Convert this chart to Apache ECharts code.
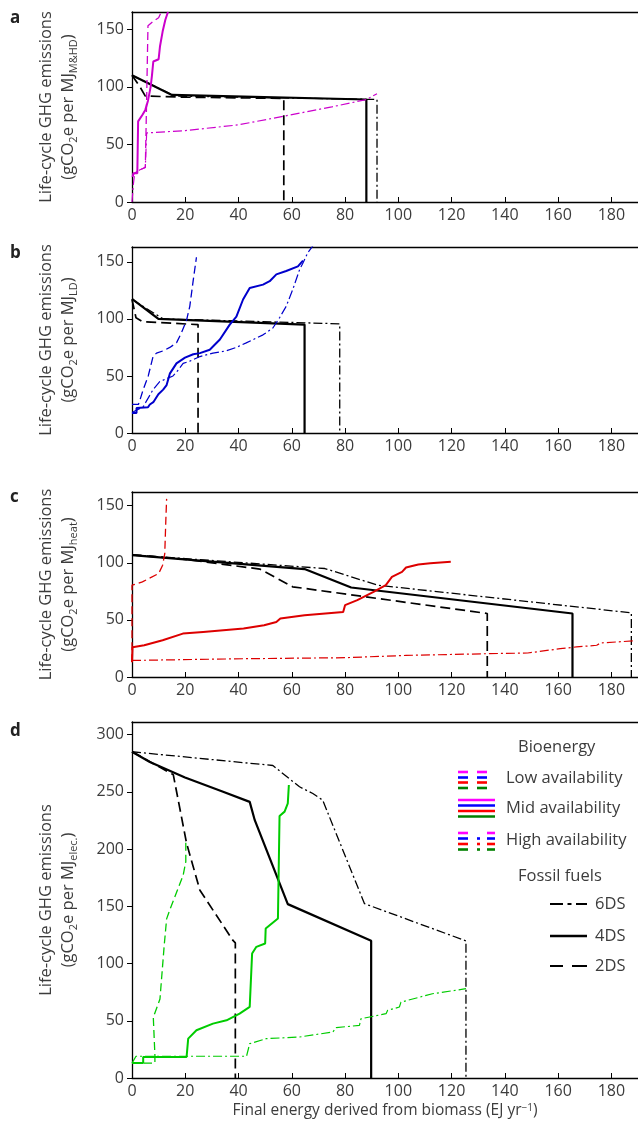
<!DOCTYPE html>
<html>
<head>
<meta charset="utf-8">
<script src="https://cdn.jsdelivr.net/npm/echarts@6/dist/echarts.min.js"></script>
<style>
html, body { margin: 0; padding: 0; background: #fff; }
#main { width: 638px; height: 1132px; }
</style>
</head>
<body>
<div id="main"></div>
<script>
// tick values
const xTicks = [0, 20, 40, 60, 80, 100, 120, 140, 160, 180];
const yTicksSmall = [0, 50, 100, 150];
const yTicksElec = [0, 50, 100, 150, 200, 250, 300];

// panel a: M&HD
const a6DS = [[0,110],[16,92],[92,89],[92,0]];
const a4DS = [[0,110],[15,93],[88,89],[88,0]];
const a2DS = [[0,110],[3,100],[5,92],[20,91],[57,90],[57,0]];
const aLow = [[0,22],[1,25],[3,28],[5,30],[5.5,90],[6,153],[8,157],[10,160],[11,165]];
const aMid = [[0.3,22],[0.5,25],[2,25],[2.3,70],[4,76],[5,80],[6,88],[7,100],[7.5,110],[8,122],[10,124],[10.5,135],[11.5,148],[12.5,158],[13.5,165]];
const aHigh = [[0,0],[0.5,15],[1,25],[3,28],[5,30],[5.5,60],[20,62],[40,67],[57,74.5],[75,82.6],[88,89],[92,94]];

// panel b: LD
const b6DS = [[0,117],[11.7,100],[78,95.7],[78,0]];
const b4DS = [[0,117.6],[9.9,100],[64.8,95],[64.8,0]];
const b2DS = [[0,117],[1.5,101],[4,97.5],[24.8,95],[24.8,0]];
const bLow = [[0,25],[2.4,25],[3,29],[4.2,38],[6.1,50],[7.9,67],[9.2,70],[11.7,72],[14.2,75],[16.7,79],[18.6,88],[20.5,99],[21.7,111],[23,134],[24.2,154]];
const bMid = [[0,17.5],[1.7,17.5],[1.7,22],[6,22.5],[6.7,25],[8,27],[9.9,34],[11.7,38],[13,42],[14.2,52],[16.7,61],[19.9,66],[23,69],[25.5,70],[29.2,73],[33,82],[36.7,95],[39.2,102],[41.7,117],[44.2,127],[49.2,130],[51.7,133],[54.2,139],[57.9,142],[62.3,146],[64.2,151]];
const bHigh = [[0,18],[4.2,23],[7.9,38],[10.4,45],[15.4,50],[17.3,55],[19.2,61],[21.7,63],[25.5,67],[30.4,70],[35.4,72],[39.2,75],[42.9,79],[49.2,86],[52.9,92],[55.4,101],[57.9,111],[60.4,126],[62.9,143],[64.2,149],[66,158],[67.9,164]];

// panel c: heat
const c6DS = [[0,107],[72.4,95],[92.3,80.4],[187.5,56.2],[187.5,0]];
const c4DS = [[0,106.8],[64.8,94.5],[82.3,78.4],[165.4,55.6],[165.4,0]];
const c2DS = [[0,107],[20,103],[48,94.5],[60.3,79],[133.4,55.6],[133.4,0]];
const cLow = [[0,13],[0,80.4],[3.9,83.3],[10,90.6],[11.5,97.9],[12.3,108],[12.7,137],[13,156]];
const cMid = [[0,13],[0.2,26],[4.6,27.8],[11.5,32.2],[19.1,38],[26.7,39.5],[41.9,42.4],[49.6,45.3],[54.2,48.2],[55.7,51.2],[64.8,54.1],[79.3,57],[80,62.9],[84.6,67.3],[90.7,74.6],[95.3,80.4],[97.6,87.7],[101.4,92.1],[102.9,95.9],[107.5,98.5],[112,99.7],[119.7,100.9]];
const cHigh = [[0,14.5],[41.9,16],[80,16.9],[102.9,18.9],[133.4,20.4],[148.6,21],[160.8,24.8],[166.9,26.3],[174.5,27.8],[176,29.8],[188.2,31.6]];

// panel d: electricity
const d6DS = [[0,285],[52.9,273],[62.9,254.4],[67.9,248.5],[71.6,242.7],[87.3,152.3],[125.4,119.8],[125.4,0]];
const d4DS = [[0,285],[6.7,276],[19.9,262.5],[34.2,250],[44.2,241.2],[46.1,225.2],[58.5,151.9],[89.8,119.8],[89.8,0]];
const d2DS = [[0,285],[15.5,265],[20.5,205],[25.5,164],[37.9,120.2],[38.8,118],[38.8,0]];
const dLow = [[0,13],[8.6,13],[8.6,20],[8,53],[10.5,69],[12.1,116],[13,139],[14.2,147],[19.2,177],[20.2,189],[20.2,206]];
const dMid = [[0,13],[4.2,13],[4.2,18.4],[20.5,18.4],[21.1,34.4],[24.2,41.7],[30.4,47.5],[35.5,50.4],[40.4,56.3],[44.2,62.1],[45.1,108.8],[46.7,114.6],[50,117.5],[50.2,130.6],[54.8,139.4],[55.4,228.9],[57.3,232.7],[58.5,240],[58.9,256]];
const dHigh = [[0,13],[1.5,19],[43,19],[44.2,30],[50.4,34.4],[62.9,35.8],[75.4,40.2],[76.7,44],[85.4,46],[86,51.8],[95.4,56.2],[96,59.1],[100.4,62],[101,66.3],[112.8,73.6],[125.4,78]];

const FONT = '"Open Sans", "Noto Sans", sans-serif';
const TXT = '#3c3c3c';
const DASHDOT = [9, 3, 2, 3];

let myChart = echarts.init(document.getElementById('main'), null, { renderer: 'canvas' });

// panel settings
const panels = [
    { top: 12, height: 190, ymax: 165, yTicks: yTicksSmall, sub: 'M&HD', color: '#cc00cc',
      fossil: [a6DS, a4DS, a2DS], bio: [aLow, aMid, aHigh] },
    { top: 247, height: 186, ymax: 163, yTicks: yTicksSmall, sub: 'LD', color: '#0000cc',
      fossil: [b6DS, b4DS, b2DS], bio: [bLow, bMid, bHigh] },
    { top: 492, height: 185, ymax: 162, yTicks: yTicksSmall, sub: 'heat', color: '#dd0000',
      fossil: [c6DS, c4DS, c2DS], bio: [cLow, cMid, cHigh] },
    { top: 722, height: 356, ymax: 311, yTicks: yTicksElec, sub: 'elec.', color: '#00cc00',
      fossil: [d6DS, d4DS, d2DS], bio: [dLow, dMid, dHigh] }
];

let grids = [], xAxes = [], yAxes = [], series = [];

panels.forEach(function (p, i) {
    grids.push({ left: 132, width: 507, top: p.top, height: p.height });

    // bottom axis
    xAxes.push({
        type: 'value', gridIndex: i, min: 0, max: 190,
        axisLine: { show: true, onZero: false, lineStyle: { color: '#000', width: 1.3 } },
        axisTick: { show: true, inside: true, length: 5, customValues: xTicks, lineStyle: { color: '#000', width: 1 } },
        axisLabel: { customValues: xTicks, color: TXT, fontSize: 16, fontFamily: FONT, margin: 5 },
        splitLine: { show: false },
        name: i === 3 ? 'Final energy derived from biomass (EJ yr{sup|\u22121})' : '',
        nameLocation: 'middle', nameGap: 25,
        nameTextStyle: {
            color: TXT, fontSize: 15.5, fontFamily: FONT,
            rich: { sup: { fontSize: 10, color: TXT, fontFamily: FONT, verticalAlign: 'top', lineHeight: 12 } }
        }
    });
    // top border line
    xAxes.push({
        type: 'value', gridIndex: i, min: 0, max: 190, position: 'top',
        axisLine: { show: true, onZero: false, lineStyle: { color: '#000', width: 1.3 } },
        axisTick: { show: false }, axisLabel: { show: false }, splitLine: { show: false }
    });

    yAxes.push({
        type: 'value', gridIndex: i, min: 0, max: p.ymax,
        axisLine: { show: true, lineStyle: { color: '#000', width: 1.3 } },
        axisTick: { show: true, inside: false, length: 5, customValues: p.yTicks, lineStyle: { color: '#000' } },
        axisLabel: { customValues: p.yTicks, color: TXT, fontSize: 16, fontFamily: FONT, margin: 8 },
        splitLine: { show: false },
        name: '{t|Life-cycle GHG emissions}\n{t|(gCO}{s|2}{t|e per MJ}{s|' + p.sub + '}{t|)}',
        nameLocation: 'middle', nameRotate: 90, nameGap: 53,
        nameTextStyle: {
            align: 'center',
            rich: {
                t: { fontSize: 16.5, color: TXT, fontFamily: FONT, lineHeight: 22 },
                s: { fontSize: 11, color: TXT, fontFamily: FONT, lineHeight: 12, verticalAlign: 'bottom' }
            }
        }
    });

    const xi = i * 2;
    // fossil fuels: 6DS dash-dot, 4DS solid, 2DS dashed
    const fossilStyles = [
        { type: DASHDOT, width: 1.3 },
        { type: 'solid', width: 2.2 },
        { type: [10, 5], width: 1.7 }
    ];
    p.fossil.forEach(function (d, k) {
        series.push({
            type: 'line', xAxisIndex: xi, yAxisIndex: i, data: d,
            symbol: 'none', silent: true,
            lineStyle: Object.assign({ color: '#000' }, fossilStyles[k])
        });
    });
    // bioenergy: low dashed, mid solid, high dash-dot
    const bioStyles = [
        { type: [8, 4], width: 1.3 },
        { type: 'solid', width: 2 },
        { type: DASHDOT, width: 1.2 }
    ];
    p.bio.forEach(function (d, k) {
        series.push({
            type: 'line', xAxisIndex: xi, yAxisIndex: i, data: d,
            symbol: 'none', silent: true,
            lineStyle: Object.assign({ color: p.color }, bioStyles[k])
        });
    });
});

// legend drawn as graphic
const legColors = ['#ff00ff', '#0000ff', '#ff0000', '#008000'];
function legLines(rows, segs) {
    let out = [];
    rows.forEach(function (y, r) {
        segs.forEach(function (s) {
            if (s[2] && r === 0) return;
            out.push({ type: 'line', shape: { x1: s[0], y1: y, x2: s[1], y2: y },
                style: { stroke: legColors[r], lineWidth: 2.6 } });
        });
    });
    return out;
}
function legText(t, x, y) {
    return { type: 'text', x: x, y: y, style: { text: t, fill: TXT, font: '16.5px ' + FONT, align: 'left', verticalAlign: 'middle' } };
}
let graphics = [];
graphics = graphics.concat(legLines([772, 777.5, 782.5, 788], [[458, 468], [477, 487]]));
graphics = graphics.concat(legLines([800, 805.5, 811, 816.5], [[458, 495]]));
graphics = graphics.concat(legLines([833, 838.5, 844, 849.5], [[458, 468], [477, 480, true], [487, 495]]));
graphics.push(legText('Bioenergy', 518, 747));
graphics.push(legText('Low availability', 506, 778));
graphics.push(legText('Mid availability', 506, 808));
graphics.push(legText('High availability', 506, 840));
graphics.push(legText('Fossil fuels', 518, 876));
graphics.push({ type: 'line', shape: { x1: 550, y1: 904, x2: 563, y2: 904 }, style: { stroke: '#000', lineWidth: 2 } });
graphics.push({ type: 'line', shape: { x1: 567.5, y1: 904, x2: 571.5, y2: 904 }, style: { stroke: '#000', lineWidth: 2 } });
graphics.push({ type: 'line', shape: { x1: 576, y1: 904, x2: 587, y2: 904 }, style: { stroke: '#000', lineWidth: 2 } });
graphics.push({ type: 'line', shape: { x1: 550, y1: 936, x2: 587, y2: 936 }, style: { stroke: '#000', lineWidth: 2.5 } });
graphics.push({ type: 'line', shape: { x1: 550, y1: 966, x2: 563, y2: 966 }, style: { stroke: '#000', lineWidth: 2 } });
graphics.push({ type: 'line', shape: { x1: 572, y1: 966, x2: 587, y2: 966 }, style: { stroke: '#000', lineWidth: 2 } });
graphics.push(legText('6DS', 595, 904));
graphics.push(legText('4DS', 595, 936));
graphics.push(legText('2DS', 595, 966));
// panel letters
[['a', 18], ['b', 253], ['c', 497], ['d', 731]].forEach(function (l) {
    graphics.push({ type: 'text', x: 10, y: l[1], style: { text: l[0], fill: '#222', font: 'bold 17px ' + FONT, align: 'left', verticalAlign: 'middle' } });
});

let option = {
    animation: false,
    backgroundColor: '#fff',
    grid: grids,
    xAxis: xAxes,
    yAxis: yAxes,
    series: series,
    graphic: graphics
};
myChart.setOption(option);
</script>
</body>
</html>
